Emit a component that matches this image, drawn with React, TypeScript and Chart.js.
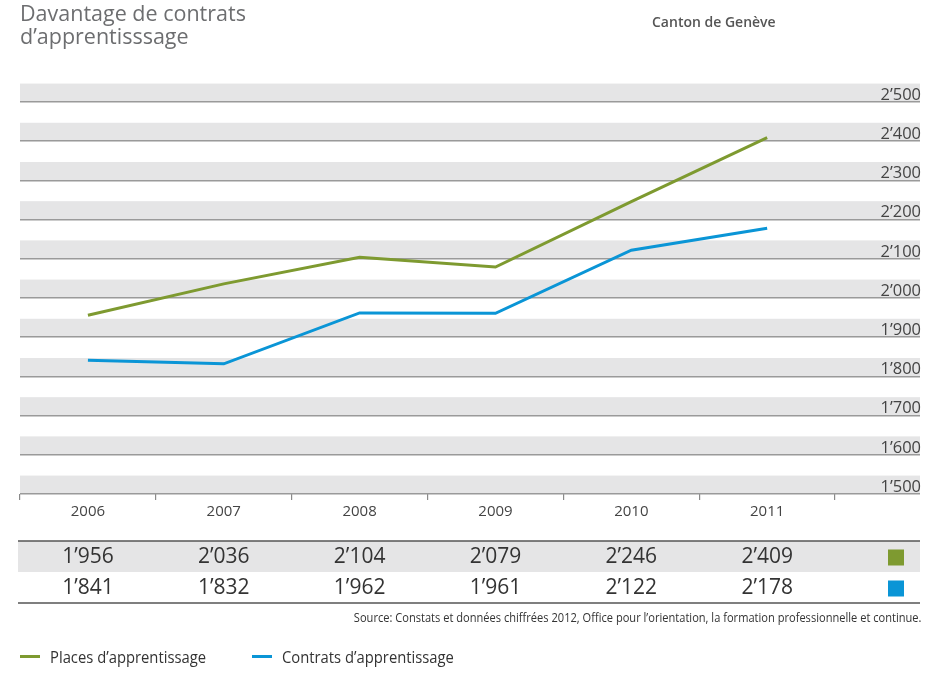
import React, { useEffect, useRef } from "react";
import { Chart, registerables } from "chart.js";

Chart.register(...registerables);

const years = ["2006", "2007", "2008", "2009", "2010", "2011"];
const places = [1956, 2036, 2104, 2079, 2246, 2409];
const contrats = [1841, 1832, 1962, 1961, 2122, 2178];
const seriesNames = ["Places d’apprentissage", "Contrats d’apprentissage"];
const seriesColors = ["#7e9a30", "#0a95d6"];
const yMin = 1500;
const yMax = 2500;
const yStep = 100;
// x extent: half a column before the first year, a narrower spare column after the last
const xMin = -0.5;
const xMax = 6.125;

const titleLines = ["Davantage de contrats", "d’apprentisssage"];
const regionLabel = "Canton de Genève";
const sourceText =
  "Source: Constats et données chiffrées 2012, Office pour l’orientation, la formation professionnelle et continue.";

const fmt = (v: number) => {
  const s = Math.round(v).toString();
  return s.length > 3 ? s.slice(0, -3) + "’" + s.slice(-3) : s;
};

const BAND = "#e5e5e6";
const FONT = '"Open Sans", "Noto Sans", sans-serif';

const bandsPlugin = {
  id: "bands",
  beforeDraw(chart: any) {
    const { ctx, chartArea, scales } = chart;
    const y = scales.y;
    const spacing = Math.abs(y.getPixelForValue(yMin) - y.getPixelForValue(yMin + yStep));
    const h = spacing * 0.47;
    ctx.save();
    ctx.fillStyle = BAND;
    y.ticks.forEach((t: any) => {
      const py = y.getPixelForValue(t.value);
      ctx.fillRect(chartArea.left, py - h, chartArea.right - chartArea.left, h);
    });
    ctx.restore();
  },
};

const tablePlugin = {
  id: "table",
  afterDraw(chart: any) {
    const { ctx, chartArea, scales } = chart;
    const x = scales.x;
    const top = chartArea.bottom + 47;
    const rowH = 31;
    const left = chartArea.left - 2;
    const right = chartArea.right;
    const rows = [places, contrats];
    ctx.save();
    ctx.fillStyle = BAND;
    ctx.fillRect(left, top, right - left, rowH);
    ctx.strokeStyle = "#555";
    ctx.lineWidth = 1.5;
    [top, top + rowH * 2].forEach((ly) => {
      ctx.beginPath();
      ctx.moveTo(left, ly);
      ctx.lineTo(right, ly);
      ctx.stroke();
    });
    ctx.font = `21px ${FONT}`;
    ctx.textAlign = "center";
    ctx.textBaseline = "middle";
    rows.forEach((vals, r) => {
      const cy = top + rowH * (r + 0.5) + 1;
      ctx.fillStyle = "#333";
      vals.forEach((v, i) => {
        ctx.fillText(fmt(v), x.getPixelForValue(i), cy);
      });
      ctx.fillStyle = seriesColors[r];
      ctx.fillRect(right - 32, cy - 8, 16, 16);
    });
    ctx.restore();
  },
};

export default function App() {
  const ref = useRef<HTMLCanvasElement>(null);

  useEffect(() => {
    if (!ref.current) return;
    const chart = new Chart(ref.current, {
      type: "line",
      data: {
        datasets: [
          {
            label: seriesNames[0],
            data: places.map((v, i) => ({ x: i, y: v })),
            borderColor: seriesColors[0],
            backgroundColor: seriesColors[0],
            borderWidth: 3,
            pointRadius: 0,
            tension: 0,
          },
          {
            label: seriesNames[1],
            data: contrats.map((v, i) => ({ x: i, y: v })),
            borderColor: seriesColors[1],
            backgroundColor: seriesColors[1],
            borderWidth: 3,
            pointRadius: 0,
            tension: 0,
          },
        ],
      },
      options: {
        responsive: false,
        animation: false,
        layout: { padding: { left: 20, right: 25, top: 102, bottom: 149 } },
        plugins: { legend: { display: false }, tooltip: { enabled: false } },
        scales: {
          x: {
            type: "linear",
            min: xMin,
            max: xMax,
            afterBuildTicks: (axis: any) => {
              axis.ticks = years.map((_, i) => ({ value: i }));
            },
            border: { display: false },
            grid: {
              offset: true,
              drawOnChartArea: false,
              drawTicks: true,
              tickLength: 6,
              color: "#8a8a8a",
              lineWidth: 1.2,
            },
            ticks: {
              color: "#444",
              font: { family: FONT, size: 15 },
              padding: 3,
              maxRotation: 0,
              autoSkip: false,
              callback: (v: any) => years[Math.round(Number(v))] ?? "",
            },
          },
          y: {
            position: "right",
            min: yMin,
            max: yMax,
            border: { display: false },
            grid: { color: "#9a9a9a", lineWidth: 1.5, drawTicks: false },
            ticks: {
              stepSize: yStep,
              mirror: true,
              padding: 1,
              labelOffset: -7,
              color: "#444",
              font: { family: FONT, size: 16.5 },
              callback: (v: any) => fmt(Number(v)),
            },
          },
        },
      },
      plugins: [bandsPlugin, tablePlugin],
    });
    return () => chart.destroy();
  }, []);

  return (
    <div
      style={{
        position: "absolute",
        top: 0,
        left: 0,
        width: 947,
        height: 673,
        background: "#fff",
        fontFamily: FONT,
        overflow: "hidden",
      }}
    >
      <canvas ref={ref} width={947} height={673} style={{ position: "absolute", left: 0, top: 0 }} />
      <div
        style={{
          position: "absolute",
          left: 20,
          top: 1,
          fontSize: 21.5,
          lineHeight: "23px",
          color: "#6d6e70",
        }}
      >
        {titleLines.map((t, i) => (
          <div key={i}>{t}</div>
        ))}
      </div>
      <div
        style={{
          position: "absolute",
          left: 652,
          top: 12,
          fontSize: 14,
          fontWeight: 600,
          color: "#555",
        }}
      >
        {regionLabel}
      </div>
      <div
        style={{
          position: "absolute",
          right: 25,
          top: 608,
          fontSize: 13,
          color: "#333",
          whiteSpace: "nowrap",
          transform: "scaleX(0.853)",
          transformOrigin: "right center",
        }}
      >
        {sourceText}
      </div>
      <div style={{ position: "absolute", left: 20, top: 645, display: "flex", fontSize: 17, color: "#333" }}>
        {seriesNames.map((n, i) => (
          <div key={i} style={{ display: "flex", alignItems: "center", width: i === 0 ? 232 : "auto" }}>
            <span style={{ display: "inline-block", width: 20, height: 3, background: seriesColors[i], marginRight: 10 }} />
            <span style={{ display: "inline-block", whiteSpace: "nowrap", transform: "scaleX(0.87)", transformOrigin: "left center" }}>{n}</span>
          </div>
        ))}
      </div>
    </div>
  );
}
